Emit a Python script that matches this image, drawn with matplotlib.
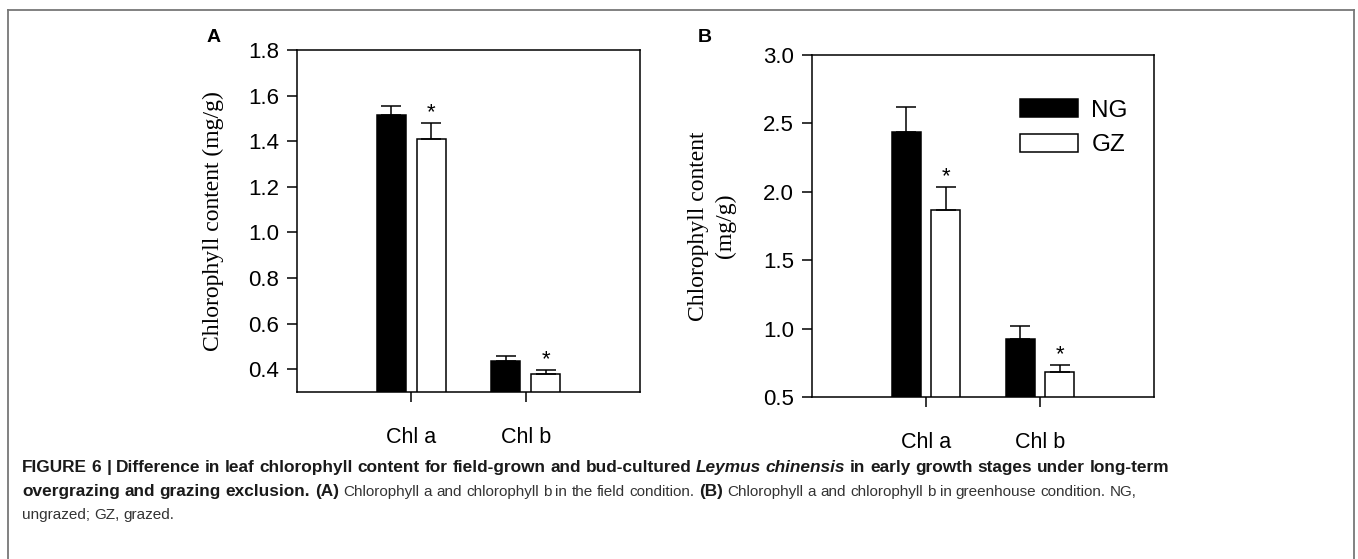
import matplotlib
matplotlib.use("Agg")
import matplotlib.pyplot as plt
from matplotlib.patches import Patch
from matplotlib.lines import Line2D
import numpy as np

# ---------------- data ----------------
categories = ["Chl a", "Chl b"]
groups = ["NG", "GZ"]

a_ng = [1.513, 0.435]
a_ng_err = [0.043, 0.025]
a_gz = [1.408, 0.380]
a_gz_err = [0.074, 0.017]
a_sig = ["*", "*"]

b_ng = [2.437, 0.927]
b_ng_err = [0.183, 0.092]
b_gz = [1.870, 0.681]
b_gz_err = [0.168, 0.056]
b_sig = ["*", "*"]

a_yticks = [0.4, 0.6, 0.8, 1.0, 1.2, 1.4, 1.6, 1.8]
b_yticks = [0.5, 1.0, 1.5, 2.0, 2.5, 3.0]

SANS = ["Liberation Sans", "DejaVu Sans"]
SERIF = ["Liberation Serif", "DejaVu Serif"]

plt.rcParams["font.family"] = SANS

W, H = 1358, 559
fig = plt.figure(figsize=(W / 100, H / 100), dpi=100)


def fx(px):
    return px / W


def fy(py):
    return 1 - py / H


def draw_panel(ax, ng, ng_err, gz, gz_err, sig, yticks, ylim):
    x = np.arange(len(categories))
    off = 0.175
    w = 0.255
    ax.bar(x - off, ng, w, color="black", edgecolor="black", linewidth=1.1, zorder=2)
    ax.bar(x + off, gz, w, color="white", edgecolor="black", linewidth=1.1, zorder=2)
    ax.errorbar(x - off, ng, yerr=[np.zeros(len(ng)), ng_err], fmt="none",
                ecolor="black", elinewidth=1.1, capsize=7.5, capthick=1.1, zorder=3)
    ax.errorbar(x + off, gz, yerr=[np.zeros(len(gz)), gz_err], fmt="none",
                ecolor="black", elinewidth=1.1, capsize=7.5, capthick=1.1, zorder=3)
    for xi, v, e, s in zip(x + off, gz, gz_err, sig):
        ax.annotate(s, (xi, v + e), xytext=(0, 7), textcoords="offset points",
                    ha="center", va="center", fontsize=16, family=SANS)
    ax.set_xlim(-1, 2)
    ax.set_ylim(*ylim)
    ax.set_yticks(yticks)
    ax.set_yticklabels([f"{t:.1f}" for t in yticks])
    ax.set_xticks(x)
    ax.set_xticklabels(categories)
    ax.tick_params(axis="y", direction="out", length=7, width=1.1, pad=6, labelsize=16)
    ax.tick_params(axis="x", direction="out", length=7, width=1.1, pad=18, labelsize=15.5)
    for sp in ax.spines.values():
        sp.set_linewidth(1.1)
        sp.set_color("black")


axA = fig.add_axes([fx(297), fy(392), fx(343), 342 / H])
draw_panel(axA, a_ng, a_ng_err, a_gz, a_gz_err, a_sig, a_yticks, (0.3, 1.8))
axA.set_ylabel("Chlorophyll content (mg/g)", family=SERIF, fontsize=17, va="center")
axA.yaxis.set_label_coords((213 - 297) / 343, 0.5)

axB = fig.add_axes([fx(812), fy(397), fx(342), 342 / H])
draw_panel(axB, b_ng, b_ng_err, b_gz, b_gz_err, b_sig, b_yticks, (0.5, 3.0))
axB.set_ylabel("Chlorophyll content\n(mg/g)", family=SERIF, fontsize=17, va="center",
               linespacing=1.3)
axB.yaxis.set_label_coords((712 - 812) / 342, 0.5)

handles = [Patch(facecolor="black", edgecolor="black", linewidth=1.1),
           Patch(facecolor="white", edgecolor="black", linewidth=1.1)]
axB.legend(handles, groups, loc="upper left", bbox_to_anchor=(0.607, 0.872),
           frameon=False, fontsize=17.5, handlelength=2.4, handleheight=0.8,
           handletextpad=0.55, labelspacing=0.5, borderpad=0, borderaxespad=0)

fig.text(fx(214), fy(38), "A", fontsize=14, fontweight="bold", ha="center", va="center")
fig.text(fx(705), fy(38), "B", fontsize=14, fontweight="bold", ha="center", va="center")

# outer frame
frame_c = "#777777"
fig.add_artist(Line2D([fx(8), fx(1354)], [fy(10), fy(10)], color=frame_c, lw=1.3))
fig.add_artist(Line2D([fx(8), fx(8)], [fy(10), 0], color=frame_c, lw=1.3))
fig.add_artist(Line2D([fx(1354), fx(1354)], [fy(10), 0], color=frame_c, lw=1.3))

# caption (word by word, natural spacing)
cap_lines = [
    [("FIGURE 6 | Difference in leaf chlorophyll content for field-grown and bud-cultured", "bold", "normal"),
     ("Leymus chinensis", "bold", "italic"),
     ("in early growth stages under long-term", "bold", "normal")],
    [("overgrazing and grazing exclusion. (A)", "bold", "normal"),
     ("Chlorophyll a and chlorophyll b in the field condition.", "normal", "normal"),
     ("(B)", "bold", "normal"),
     ("Chlorophyll a and chlorophyll b in greenhouse condition. NG,", "normal", "normal")],
    [("ungrazed; GZ, grazed.", "normal", "normal")],
]
cap_base = [472, 496, 519]
renderer = fig.canvas.get_renderer()


def cap_fs(wt):
    return 12.4 if wt == "bold" else 11.0


def raw_w(s, wt, st):
    t = fig.text(0, 0, s, fontsize=cap_fs(wt), fontweight=wt, fontstyle=st)
    w = t.get_window_extent(renderer=renderer).width
    t.remove()
    return w


def adv_w(s, wt, st):
    # advance width including side bearings
    return raw_w("H" + s + "H", wt, st) - raw_w("HH", wt, st)


for runs, yb in zip(cap_lines, cap_base):
    xpix = 22
    first = True
    for txt, wt, st in runs:
        space = adv_w(" ", wt, "normal")
        for wd in txt.split(" "):
            if not first:
                xpix += space
            first = False
            fig.text(fx(xpix), fy(yb), wd, fontsize=cap_fs(wt), fontweight=wt, fontstyle=st,
                     ha="left", va="baseline",
                     color="#1a1a1a" if wt == "bold" else "#333333")
            xpix += adv_w(wd, wt, st)

fig.savefig("out.png", dpi=100)
